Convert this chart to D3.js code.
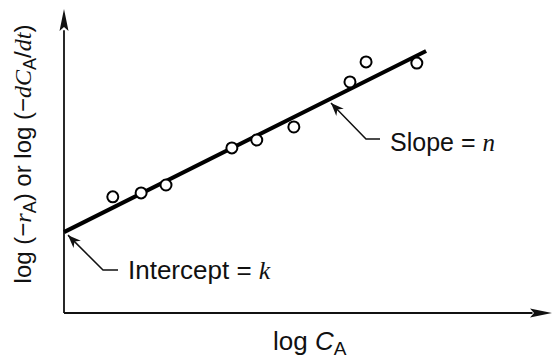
<!DOCTYPE html>
<html>
<head>
<meta charset="utf-8">
<script src="https://cdn.jsdelivr.net/npm/d3@7"></script>
<style>
  body { margin: 0; background: #fff; }
  svg { display: block; }
  text { font-family: "Liberation Sans", Arial, sans-serif; fill: #111; }
  .math { font-family: "Liberation Serif", "DejaVu Serif", serif; font-style: italic; }
</style>
</head>
<body>
<div id="vizArea"></div>
<script>
// log C_A vs log rate, arbitrary units
const logCA   = [1.00, 1.58, 2.09, 3.44, 3.95, 4.71, 5.86, 6.19, 7.23];
const logRate = [3.82, 3.95, 4.21, 5.43, 5.69, 6.12, 7.60, 8.26, 8.22];
const intercept = 2.66;
const slope = 0.803;
const fitRange = [0, 7.42];

const width = 557, height = 363;

const svg = d3.select("#vizArea")
    .append("svg")
    .attr("width", width)
    .attr("height", height);

// scales: origin at (64,313)
const x = d3.scaleLinear().domain([0, 10]).range([64, 552]);
const y = d3.scaleLinear().domain([0, 10]).range([313, 9]);

// axes with arrow heads
svg.append("path")
    .attr("d", d3.line()([[x(0), y(0)], [x(0), y(9.3)]]))
    .attr("stroke", "#111").attr("stroke-width", 1.8).attr("fill", "none");
svg.append("path")
    .attr("d", d3.line()([[x(0), y(0)], [x(9.6), y(0)]]))
    .attr("stroke", "#111").attr("stroke-width", 1.8).attr("fill", "none");

svg.append("path")
    .attr("d", `M${x(0)},${y(10)} L${x(0) + 4.5},${y(10) + 22} L${x(0)},${y(10) + 18} L${x(0) - 4.5},${y(10) + 22} Z`)
    .attr("fill", "#111");
svg.append("path")
    .attr("d", `M${x(10)},${y(0)} L${x(10) - 22},${y(0) - 4.5} L${x(10) - 18},${y(0)} L${x(10) - 22},${y(0) + 4.5} Z`)
    .attr("fill", "#111");

// fitted line
svg.append("path")
    .datum(fitRange)
    .attr("d", d3.line()
        .x(d => x(d))
        .y(d => y(intercept + slope * d)))
    .attr("stroke", "#000")
    .attr("stroke-width", 4)
    .attr("fill", "none");

// data points
svg.selectAll("circle.pt")
    .data(logCA.map((v, i) => [v, logRate[i]]))
    .join("circle")
    .attr("class", "pt")
    .attr("cx", d => x(d[0]))
    .attr("cy", d => y(d[1]))
    .attr("r", 5.5)
    .attr("fill", "#fff")
    .attr("stroke", "#000")
    .attr("stroke-width", 2);

// annotation arrows
svg.append("defs").append("marker")
    .attr("id", "head")
    .attr("viewBox", "0 0 10 10")
    .attr("refX", 10).attr("refY", 5)
    .attr("markerWidth", 13).attr("markerHeight", 13)
    .attr("markerUnits", "userSpaceOnUse")
    .attr("orient", "auto")
    .append("path")
    .attr("d", "M0,1 L10,5 L0,9 L3,5 Z")
    .attr("fill", "#111");

function callout(tx, ty, ex, ey, hx) {
  svg.append("path")
      .attr("d", `M${hx},${ey} L${ex},${ey} L${tx},${ty}`)
      .attr("stroke", "#111")
      .attr("stroke-width", 1.5)
      .attr("fill", "none")
      .attr("marker-end", "url(#head)");
}

// intercept
const ix = x(0), iy = y(intercept);
callout(ix + 4, iy + 3, 103, 270, 118);
const t1 = svg.append("text").attr("x", 128).attr("y", 279).attr("font-size", 26);
t1.append("tspan").text("Intercept = ");
t1.append("tspan").attr("class", "math").text("k");

// slope
const sx = x(5.45), sy = y(intercept + slope * 5.45);
callout(sx + 1, sy + 4, 366, 139, 380);
const t2 = svg.append("text").attr("x", 390).attr("y", 151).attr("font-size", 25);
t2.append("tspan").text("Slope = ");
t2.append("tspan").attr("class", "math").text("n");

// x label
const xl = svg.append("text").attr("x", 273).attr("y", 350).attr("font-size", 26);
xl.append("tspan").text("log ");
xl.append("tspan").attr("font-style", "italic").text("C");
xl.append("tspan").attr("font-size", 19).attr("dy", 5).text("A");

// y label
const yl = svg.append("text")
    .attr("transform", "translate(31,154) rotate(-90)")
    .attr("text-anchor", "middle")
    .attr("font-size", 24);
yl.append("tspan").text("log (\u2212");
yl.append("tspan").attr("class", "math").text("r");
yl.append("tspan").attr("font-size", 18).attr("dy", 5).text("A");
yl.append("tspan").attr("dy", -5).text(") or log (\u2212");
yl.append("tspan").attr("class", "math").text("dC");
yl.append("tspan").attr("font-size", 18).attr("dy", 5).text("A");
yl.append("tspan").attr("dy", -5).text("/");
yl.append("tspan").attr("class", "math").text("dt");
yl.append("tspan").text(")");
</script>
</body>
</html>
